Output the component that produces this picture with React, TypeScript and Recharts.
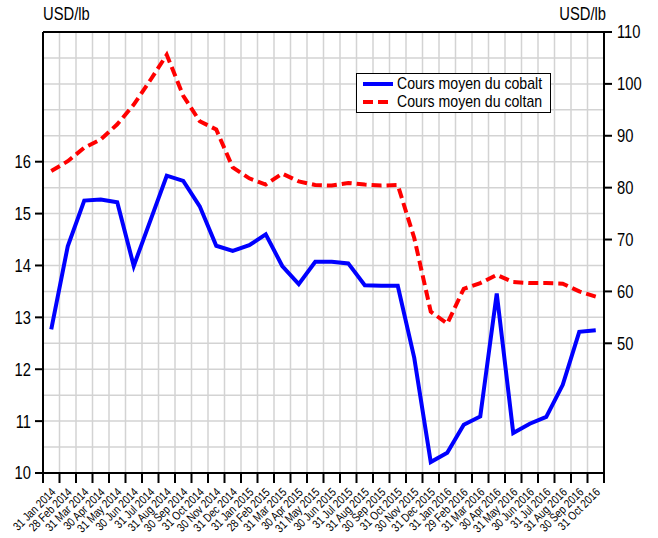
import { LineChart, Line, XAxis, YAxis, CartesianGrid, ReferenceLine } from 'recharts';

const months = [
  '31 Jan 2014', '28 Feb 2014', '31 Mar 2014', '30 Apr 2014', '31 May 2014', '30 Jun 2014',
  '31 Jul 2014', '31 Aug 2014', '30 Sep 2014', '31 Oct 2014', '30 Nov 2014', '31 Dec 2014',
  '31 Jan 2015', '28 Feb 2015', '31 Mar 2015', '30 Apr 2015', '31 May 2015', '30 Jun 2015',
  '31 Jul 2015', '31 Aug 2015', '30 Sep 2015', '31 Oct 2015', '30 Nov 2015', '31 Dec 2015',
  '31 Jan 2016', '29 Feb 2016', '31 Mar 2016', '30 Apr 2016', '31 May 2016', '30 Jun 2016',
  '31 Jul 2016', '31 Aug 2016', '30 Sep 2016', '31 Oct 2016',
];

// cours moyen du cobalt (axe gauche, USD/lb)
const cobalt = [
  12.77, 14.37, 15.25, 15.27, 15.22, 13.99, 14.86, 15.73, 15.63, 15.14, 14.38, 14.28,
  14.39, 14.6, 13.99, 13.64, 14.07, 14.07, 14.04, 13.62, 13.61, 13.61, 12.22, 10.21,
  10.39, 10.93, 11.09, 13.46, 10.77, 10.95, 11.08, 11.7, 12.72, 12.75,
];

// cours moyen du coltan (axe droit, USD/lb)
const coltan = [
  83.2, 85.1, 87.7, 89.3, 92.2, 96.0, 100.7, 105.6, 97.7, 92.8, 91.2, 83.9,
  81.8, 80.6, 82.7, 81.2, 80.5, 80.4, 80.9, 80.6, 80.4, 80.5, 70.3, 56.1,
  53.8, 60.5, 61.6, 63.2, 61.8, 61.6, 61.6, 61.5, 60.0, 59.0,
];

const leftTicks = [10, 11, 12, 13, 14, 15, 16];
const rightTicks = [50, 60, 70, 80, 90, 100, 110];

const FONT = "'Liberation Sans', Arial, sans-serif";
const NARROW = 0.82; // no narrow font installed, squeeze horizontally instead
const BAND = 561 / 34;

const data = months.map((m, i) => ({ idx: i, label: m, cobalt: cobalt[i], coltan: coltan[i] }));
// band edges, used for tick marks and vertical grid
const edges = Array.from({ length: months.length + 1 }, (_, i) => i - 0.5);
const hGrid = Array.from({ length: 18 }, (_, i) => 10 + i * 0.5);

function DateTick({ x, y, payload }: any) {
  const i = payload.value + 0.5;
  if (i >= months.length) return <g />;
  const tx = x + BAND / 2 + 5;
  const ty = y + 8;
  return (
    <text
      x={0}
      y={0}
      textAnchor="end"
      transform={`translate(${tx} ${ty}) rotate(-45) scale(${NARROW} 1)`}
      fontSize={12}
      fontFamily={FONT}
      fill="#000"
    >
      {months[i]}
    </text>
  );
}

function ValueTick({ x, y, payload, textAnchor }: any) {
  return (
    <text
      x={0}
      y={0}
      dy="0.36em"
      textAnchor={textAnchor}
      transform={`translate(${x} ${y}) scale(${NARROW} 1)`}
      fontSize={18}
      fontFamily={FONT}
      fill="#000"
    >
      {payload.value}
    </text>
  );
}

const narrowText = {
  display: 'inline-block',
  whiteSpace: 'nowrap' as const,
  transform: `scaleX(0.83)`,
  transformOrigin: 'left center',
  lineHeight: '18px',
  height: 18,
};

export default function App() {
  return (
    <div style={{ position: 'absolute', left: 0, top: 0, width: 658, height: 538, background: '#fff', fontFamily: FONT }}>
      <LineChart width={658} height={538} data={data} margin={{ top: 32, right: 0, bottom: 0, left: 0 }}>
        <CartesianGrid
          yAxisId="left"
          stroke="#d3d3d3"
          strokeWidth={1.5}
          horizontalValues={hGrid}
        />
        <XAxis
          dataKey="idx"
          type="number"
          domain={[-0.5, 33.5]}
          ticks={edges}
          interval={0}
          height={65}
          tickSize={10}
          stroke="#000"
          strokeWidth={2}
          tick={<DateTick />}
          allowDataOverflow
        />
        <YAxis
          yAxisId="left"
          domain={[10, 18.5]}
          ticks={leftTicks}
          interval={0}
          width={43}
          tickSize={8}
          tickMargin={4}
          stroke="#000"
          strokeWidth={2}
          tick={<ValueTick />}
          allowDataOverflow
        />
        <YAxis
          yAxisId="right"
          orientation="right"
          domain={[25, 110]}
          ticks={rightTicks}
          interval={0}
          width={54}
          tickSize={8}
          tickMargin={5}
          stroke="#000"
          strokeWidth={2}
          tick={<ValueTick />}
          allowDataOverflow
        />
        <ReferenceLine yAxisId="left" y={18.5} stroke="#000" strokeWidth={2} />
        <Line
          yAxisId="left"
          type="linear"
          dataKey="cobalt"
          stroke="#0000ff"
          strokeWidth={4}
          dot={false}
          isAnimationActive={false}
        />
        <Line
          yAxisId="right"
          type="linear"
          dataKey="coltan"
          stroke="#ff0000"
          strokeWidth={4}
          strokeDasharray="10 5"
          dot={false}
          isAnimationActive={false}
        />
      </LineChart>
      <div style={{ position: 'absolute', left: 43, top: 4, fontSize: 18, color: '#000' }}>
        <span style={{ display: 'inline-block', transform: `scaleX(${NARROW})`, transformOrigin: 'left center' }}>USD/lb</span>
      </div>
      <div style={{ position: 'absolute', right: 52, top: 4, fontSize: 18, color: '#000' }}>
        <span style={{ display: 'inline-block', transform: `scaleX(${NARROW})`, transformOrigin: 'right center' }}>USD/lb</span>
      </div>
      <div
        style={{
          position: 'absolute',
          left: 356,
          top: 73,
          width: 195,
          height: 40,
          border: '1.5px solid #000',
          background: '#fff',
          fontSize: 17,
          color: '#000',
          boxSizing: 'border-box',
          paddingTop: 1,
          overflow: 'hidden',
        }}
      >
        <div style={{ display: 'flex', alignItems: 'center', height: 18 }}>
          <svg width={40} height={18} style={{ flex: 'none' }}>
            <line x1={6} x2={36} y1={9} y2={9} stroke="#0000ff" strokeWidth={4} />
          </svg>
          <span style={narrowText}>Cours moyen du cobalt</span>
        </div>
        <div style={{ display: 'flex', alignItems: 'center', height: 18 }}>
          <svg width={40} height={18} style={{ flex: 'none' }}>
            <line x1={6} x2={36} y1={9} y2={9} stroke="#ff0000" strokeWidth={4} strokeDasharray="10 5" />
          </svg>
          <span style={narrowText}>Cours moyen du coltan</span>
        </div>
      </div>
    </div>
  );
}
